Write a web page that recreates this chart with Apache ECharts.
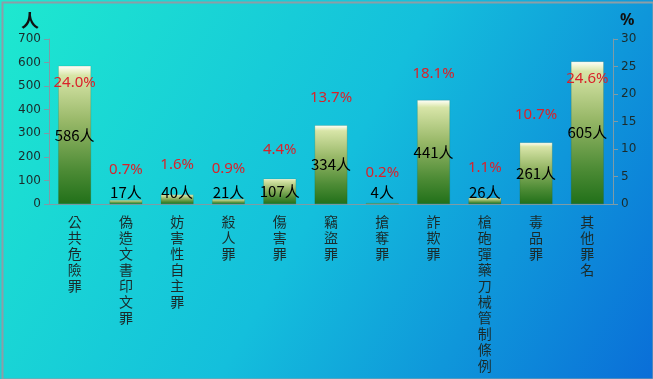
<!DOCTYPE html>
<html><head><meta charset="utf-8">
<script src="https://cdn.jsdelivr.net/npm/echarts@6/dist/echarts.min.js"></script>
<style>html,body{margin:0;padding:0;}#c{width:653px;height:379px;}</style>
</head><body><div id="c"></div>
<script>
var categories = ['公共危險罪','偽造文書印文罪','妨害性自主罪','殺人罪','傷害罪','竊盜罪','搶奪罪','詐欺罪','槍砲彈藥刀械管制條例','毒品罪','其他罪名'];
var counts = [586, 17, 40, 21, 107, 334, 4, 441, 26, 261, 605];
var percents = [24.0, 0.7, 1.6, 0.9, 4.4, 13.7, 0.2, 18.1, 1.1, 10.7, 24.6];
var leftTicks = {min: 0, max: 700, interval: 100};
var rightTicks = {min: 0, max: 30, interval: 5};

var chart = echarts.init(document.getElementById('c'));
var barGrad = new echarts.graphic.LinearGradient(0, 0, 0, 1, [
  {offset: 0, color: '#ffffff'},
  {offset: 0.025, color: '#f3f7dc'},
  {offset: 0.07, color: '#d8e5a8'},
  {offset: 0.4, color: '#98b868'},
  {offset: 0.75, color: '#4e8c36'},
  {offset: 1, color: '#217019'}
]);
var pctData = percents.map(function (p) {
  var big = p > 20;
  return {value: p, label: {position: big ? 'bottom' : 'top', distance: big ? 2 : 22}};
});
var barData = counts.map(function (v) {
  return {value: v, label: {position: v < 60 ? 'insideBottom' : 'inside', distance: 4}};
});
chart.setOption({
  backgroundColor: new echarts.graphic.LinearGradient(0, 0, 1, 1, [
    {offset: 0, color: '#1ee9cf'},
    {offset: 0.5, color: '#14bfdc'},
    {offset: 1, color: '#0a6ed8'}
  ]),
  animation: false,
  graphic: [
    {type: 'rect', left: 0, top: 0, shape: {x: 1, y: 1, width: 651, height: 377},
     style: {fill: 'none', stroke: '#8d9ea6', lineWidth: 2}},
    {type: 'text', left: 21, top: 11, style: {text: '人', font: 'bold 18px "Noto Sans CJK TC"', fill: '#111'}},
    {type: 'text', left: 620, top: 12, style: {text: '%', font: 'bold 16px "Noto Sans"', fill: '#111'}}
  ],
  grid: {left: 49, right: 40, top: 39, bottom: 175},
  xAxis: {
    type: 'category', data: categories,
    axisLine: {lineStyle: {color: '#7f9ba6'}},
    axisTick: {show: false},
    axisLabel: {
      interval: 0, margin: 10, fontSize: 14, lineHeight: 16,
      fontFamily: '"Noto Sans CJK TC"', color: '#1b2b2b',
      formatter: function (s) { return s.split('').join('\n'); }
    }
  },
  yAxis: [
    {type: 'value', min: leftTicks.min, max: leftTicks.max, interval: leftTicks.interval,
     splitLine: {show: false},
     axisLine: {show: true, lineStyle: {color: '#7f9ba6'}},
     axisTick: {show: true, length: 5, lineStyle: {color: '#7f9ba6'}},
     axisLabel: {fontSize: 12, color: '#1b2b2b', fontFamily: '"DejaVu Sans"', margin: 8}},
    {type: 'value', min: rightTicks.min, max: rightTicks.max, interval: rightTicks.interval,
     splitLine: {show: false},
     axisLine: {show: true, lineStyle: {color: '#7f9ba6'}},
     axisTick: {show: true, length: 5, lineStyle: {color: '#7f9ba6'}},
     axisLabel: {fontSize: 12, color: '#1b2b2b', fontFamily: '"DejaVu Sans"', margin: 8}}
  ],
  series: [
    {type: 'bar', data: barData, barCategoryGap: '36%',
     itemStyle: {color: barGrad, borderColor: 'rgba(30,90,30,0.35)', borderWidth: 0.5},
     label: {show: true, formatter: '{c}人', color: '#000', fontSize: 15,
             fontFamily: '"Noto Sans CJK TC"'}},
    {type: 'scatter', yAxisIndex: 1, data: pctData, symbol: 'circle', symbolSize: 2,
     itemStyle: {color: 'rgba(0,0,0,0)'}, z: 5,
     label: {show: true, opacity: 1, color: '#d9222a', fontSize: 15, fontFamily: '"Noto Sans"',
             formatter: function (p) { return p.value.toFixed(1) + '%'; }}}
  ]
});
</script></body></html>
